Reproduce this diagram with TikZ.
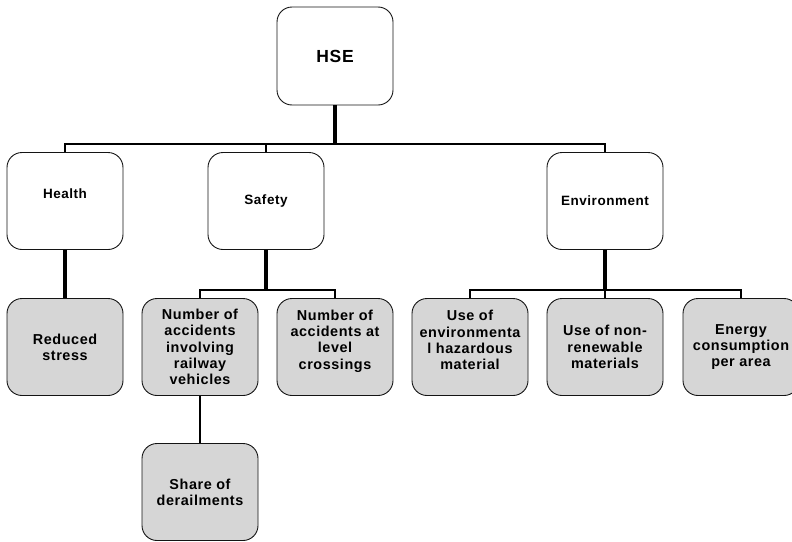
\documentclass[tikz,border=0pt]{standalone}
\usepackage{fontspec}
\setmainfont{Liberation Sans}
\newfontfamily\boxfont[LetterSpace=4]{Liberation Sans}
\definecolor{boxgray}{RGB}{214,214,214}
\definecolor{edge}{RGB}{20,20,20}
\begin{document}
\begin{tikzpicture}[x=1pt,y=-1pt,
  box/.style={draw=edge, line width=0.9pt, rounded corners=15pt, minimum width=116pt, minimum height=97pt, inner sep=0pt, align=center, font=\boxfont\bfseries\fontsize{13.5}{16.3}\selectfont},
  topbox/.style={box, fill=white},
  leafbox/.style={box, fill=boxgray, font=\boxfont\bfseries\fontsize{14.4}{16.3}\selectfont},
  leaftext/.style={align=center, inner sep=0pt, font=\boxfont\bfseries\fontsize{14.4}{16.3}\selectfont},
  stem/.style={line width=3.2pt, draw=black},
  bar/.style={line width=2.2pt, draw=black}]
\useasboundingbox (0,0) rectangle (792,541);
% nodes
\node[topbox, minimum height=98pt, font=\boxfont\bfseries\fontsize{17.5}{20}\selectfont] (hse) at (335,56) {HSE};
\node[topbox] (health) at (65,201) {};
\node[font=\boxfont\bfseries\fontsize{13.5}{16}\selectfont] (healtht) at (65,194) {Health};
\node[topbox] (safety) at (266,201) {Safety};
\node[topbox] (env) at (605,201) {Environment};
\node[leafbox] (stress) at (65,347) {Reduced\\stress};
\node[leafbox] (rail) at (200,347) {Number of\\accidents\\involving\\railway\\vehicles};
\node[leafbox] (level) at (335,347) {};
\node[leaftext] (levelt) at (335,341) {Number of\\accidents at\\level\\crossings};
\node[leafbox] (haz) at (470,347) {};
\node[leaftext] (hazt) at (470,340) {Use of\\environmenta\\l hazardous\\material};
\node[leafbox] (nonren) at (605,347) {Use of non-\\renewable\\materials};
\node[leafbox] (energy) at (741,347) {Energy\\consumption\\per area};
\node[leafbox] (derail) at (200,492) {Share of\\derailments};
% junction coordinates
\coordinate (j1) at (335,144);
\coordinate (j2) at (266,290);
\coordinate (j3) at (605,290);
% connectors
\draw[stem] (hse.south) -- (j1);
\draw[bar] (health.north) |- (j1);
\draw[bar] (env.north) |- (j1);
\draw[bar] (safety.north) -- (safety.north |- j1);
\draw[stem] (health.south) -- (stress.north);
\draw[stem] (safety.south) -- (j2);
\draw[bar] (rail.north) |- (j2);
\draw[bar] (level.north) |- (j2);
\draw[stem] (env.south) -- (j3);
\draw[bar] (haz.north) |- (j3);
\draw[bar] (energy.north) |- (j3);
\draw[bar] (nonren.north) -- (j3);
\draw[bar] (rail.south) -- (derail.north);
\end{tikzpicture}
\end{document}
